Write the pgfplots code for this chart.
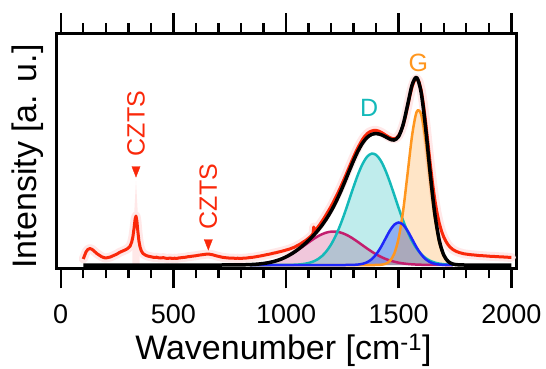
\documentclass[border=0pt]{standalone}
\usepackage{pgfplots}
\usepackage{pgfplotstable}
\pgfplotsset{compat=1.18}
\usepackage{fontspec}
\setmainfont{Liberation Sans}
\definecolor{datared}{RGB}{250,40,10}
\definecolor{band}{RGB}{255,232,232}
\definecolor{cD}{RGB}{20,185,185}
\definecolor{cG}{RGB}{255,150,30}
\definecolor{cM}{RGB}{195,30,110}
\definecolor{cB}{RGB}{30,40,250}

\pgfplotstableread{
x y
840 0.41
860 0.65
880 1.01
900 1.52
920 2.23
940 3.19
960 4.46
980 6.07
1000 8.06
1020 10.43
1040 13.14
1060 16.15
1080 19.34
1100 22.59
1120 25.70
1140 28.51
1160 30.82
1180 32.49
1200 33.37
1220 33.41
1240 32.61
1260 31.02
1280 28.77
1300 26.00
1320 22.90
1340 19.67
1360 16.46
1380 13.43
1400 10.68
1420 8.28
1440 6.25
1460 4.61
1480 3.31
1500 2.31
1520 1.58
1540 1.05
1560 0.68
1580 0.43
1600 0.26
1620 0.16
1640 0.09
1660 0.05
1680 0.02
1700 0.01
1720 0
1740 0
}\compM

\pgfplotstableread{
x y
840 0
860 0
880 0
900 0
920 0
940 0.01
960 0.01
980 0.03
1000 0.07
1020 0.15
1040 0.30
1060 0.59
1080 1.10
1100 1.98
1120 3.42
1140 5.68
1160 9.07
1180 13.92
1200 20.52
1220 29.06
1240 39.54
1260 51.69
1280 64.93
1300 78.35
1320 90.85
1340 101.21
1360 108.33
1380 111.41
1400 110.08
1420 104.51
1440 95.32
1460 83.54
1480 70.33
1500 56.90
1520 44.22
1540 33.03
1560 23.69
1580 16.33
1600 10.82
1620 6.88
1640 4.21
1660 2.47
1680 1.40
1700 0.76
1720 0.39
1740 0.20
}\compD

\pgfplotstableread{
x y
840 0
900 0
1000 0
1100 0
1200 0
1260 0
1280 0.05
1300 0.16
1320 0.47
1340 1.21
1360 2.79
1380 5.75
1400 10.60
1420 17.47
1440 25.78
1460 34.03
1480 40.21
1500 42.50
1520 40.21
1540 34.03
1560 25.78
1580 17.47
1600 10.60
1620 5.75
1640 2.79
1660 1.21
1680 0.47
1700 0.16
1720 0.05
1740 0
}\compB

\pgfplotstableread{
x y
840 0
1000 0
1200 0
1380 0
1400 0.05
1420 0.26
1440 1.09
1460 3.81
1480 11.10
1500 26.95
1520 54.60
1540 92.31
1560 130.22
1580 153.27
1600 150.51
1620 123.33
1640 84.33
1660 48.10
1680 22.89
1700 9.10
1720 3.01
1740 0.83
}\compG

\pgfplotstableread{
x y
100 0
300 0
500 0
700 0
780 0.08
800 0.15
820 0.25
840 0.41
860 0.65
880 1.01
900 1.52
920 2.23
940 3.20
960 4.47
980 6.10
1000 8.13
1020 10.58
1040 13.44
1060 16.74
1080 20.44
1100 24.57
1120 29.12
1140 34.19
1160 39.89
1180 46.41
1200 53.89
1220 62.47
1240 72.15
1260 82.71
1280 93.75
1300 104.51
1320 114.22
1340 122.09
1360 127.58
1380 130.59
1400 131.41
1420 130.52
1440 128.44
1460 125.99
1480 124.95
1500 128.66
1520 140.61
1540 160.42
1560 180.37
1580 187.50
1600 172.19
1620 136.12
1640 91.42
1660 51.83
1680 24.76
1700 10.02
1720 3.45
1740 1.03
1760 0.28
1780 0.05
1800 0
1900 0
2000 0
}\total

\pgfplotstableread{
x y
100 6
105 9
112 13
120 15.5
130 16.5
140 15.5
150 13.5
160 11.5
170 10
180 8.5
190 7.5
200 7
210 7.5
220 8
230 9
240 10
250 11
260 12.5
270 13.5
280 14.5
290 15.5
300 17
308 19
315 23
320 28
325 36
330 46
334 49
338 44
342 34
347 24
352 18
358 14
365 11.5
375 10
385 9
395 8.5
405 8
415 7.5
425 7.8
435 7.2
445 7
455 7.4
465 6.8
475 6.6
485 7
495 6.5
505 6.8
515 6.6
525 7.1
535 7.3
545 7.6
555 7.8
565 8.3
575 8.5
585 8.9
595 9.1
605 9.5
615 9.9
625 10.2
635 10.5
645 10.8
655 11
665 10.6
675 10.2
685 9.5
695 8.9
705 8.4
715 7.8
725 7.5
735 7.2
745 7
755 6.8
765 6.9
775 6.6
785 6.8
795 6.5
805 6.7
815 6.9
825 7.0
835 7.3
845 7.6
855 7.8
865 8.2
875 8.6
885 9.0
895 9.4
905 9.9
915 10.4
925 10.8
935 11.3
945 11.9
955 12.3
965 12.9
975 13.4
985 14.0
995 14.6
1005 15.3
1015 15.9
1025 16.8
1035 17.6
1045 18.8
1055 20.0
1065 21.2
1075 22.8
1085 24.2
1095 25.9
1105 27.8
1115 30.0
1120 31.5
1123 38
1126 33
1130 34.2
1140 37.5
1150 40.5
1160 43.8
1170 47.3
1180 51
1190 54.8
1200 58.7
1210 63
1220 67.4
1230 72
1240 76.8
1250 81.8
1260 87
1270 92.3
1280 97.7
1290 103
1300 108.2
1310 113.2
1320 117.8
1330 122
1340 125.8
1350 128.9
1360 131.3
1370 133
1380 134
1390 134.6
1400 134.6
1410 134
1420 133
1430 131.7
1440 130.2
1450 128.8
1460 127.5
1470 126.6
1480 126.3
1490 127
1500 129.4
1510 133.6
1520 139.8
1530 148.3
1540 158.6
1550 169.5
1560 178.6
1570 184.6
1580 186.5
1590 183.5
1600 174.8
1610 160.6
1620 142.5
1630 122
1640 101.5
1650 82.5
1660 66
1670 52.5
1680 42
1690 34
1700 28
1710 23.5
1720 20
1730 17.5
1740 15.6
1750 14.2
1760 13.2
1770 12.4
1780 11.8
1790 11.2
1800 10.9
1820 10.3
1840 9.9
1860 9.4
1880 9.2
1900 8.8
1920 8.6
1940 8.3
1960 8.1
1980 7.8
2000 7.6
}\datared

\begin{document}
\begin{tikzpicture}
\useasboundingbox (-56.7pt,-99.7pt) rectangle (489.3pt,268.3pt);
\begin{axis}[
  at={(0pt,0pt)}, anchor=south west,
  scale only axis, width=459.8pt, height=235pt,
  xmin=-18, xmax=2023, ymin=-3.3, ymax=231.7,
  axis line style={line width=2.4pt},
  xtick={0,500,1000,1500,2000},
  minor xtick={100,200,300,400,600,700,800,900,1100,1200,1300,1400,1600,1700,1800,1900},
  ytick=\empty,
  tick align=outside, xtick pos=both, xticklabel pos=lower,
  major tick length=20pt, minor tick length=10pt,
  tick style={black, line width=2.4pt},
  tick label style={font=\fontsize{27}{32}\selectfont},
  xticklabel style={yshift=-13pt},
  /pgf/number format/assume math mode=true,
  /pgf/number format/set thousands separator={},
  xlabel={Wavenumber [cm\textsuperscript{-1}]},
  ylabel={Intensity [a. u.]},
  label style={font=\fontsize{34}{40}\selectfont},
  xlabel style={at={(axis description cs:0.493,-0.390)}, anchor=base},
  ylabel style={at={(axis description cs:-0.0624,0.476)}, anchor=center},
]
% error band
\addplot[band, line width=9pt, line join=round, line cap=round] table[x=x,y=y] {\datared};
\addplot[fill=band, draw=none] coordinates {(318,20) (334,84) (350,20)} \closedcycle;
% data
\addplot[datared, line width=3pt, line join=round] table[x=x,y=y] {\datared};
% component fills
\addplot[draw=none, fill=cM, fill opacity=0.25, smooth] table[x=x,y=y] {\compM} \closedcycle;
\addplot[draw=none, fill=cD, fill opacity=0.27, smooth] table[x=x,y=y] {\compD} \closedcycle;
\addplot[draw=none, fill=cB, fill opacity=0.30, smooth] table[x=x,y=y] {\compB} \closedcycle;
\addplot[draw=none, fill=cG, fill opacity=0.25, smooth] table[x=x,y=y] {\compG} \closedcycle;
% component lines
\addplot[cM, line width=2.5pt, smooth] table[x=x,y=y] {\compM};
\addplot[cD, line width=2.5pt, smooth] table[x=x,y=y] {\compD};
\addplot[cG, line width=2.5pt, smooth] table[x=x,y=y] {\compG};
\addplot[cB, line width=2.5pt, smooth] table[x=x,y=y] {\compB};
% total fit
\addplot[black, line width=3.5pt, smooth, line join=round] table[x=x,y=y] {\total};
% arrows
\addplot[only marks, mark=triangle*, datared, mark size=5pt,
  mark options={rotate=180, yscale=1.4, xscale=0.95}] coordinates {(334,95) (655,22)};
\node[rotate=90, text=datared, font=\fontsize{25}{30}\selectfont] at (axis cs:334,141.5) {CZTS};
\node[rotate=90, text=datared, font=\fontsize{25}{30}\selectfont] at (axis cs:655,68.5) {CZTS};
\node[text=cD, font=\fontsize{25}{30}\selectfont] at (axis cs:1369,157) {D};
\node[text=cG, font=\fontsize{25}{30}\selectfont] at (axis cs:1587,202) {G};
\end{axis}
\end{tikzpicture}
\end{document}
